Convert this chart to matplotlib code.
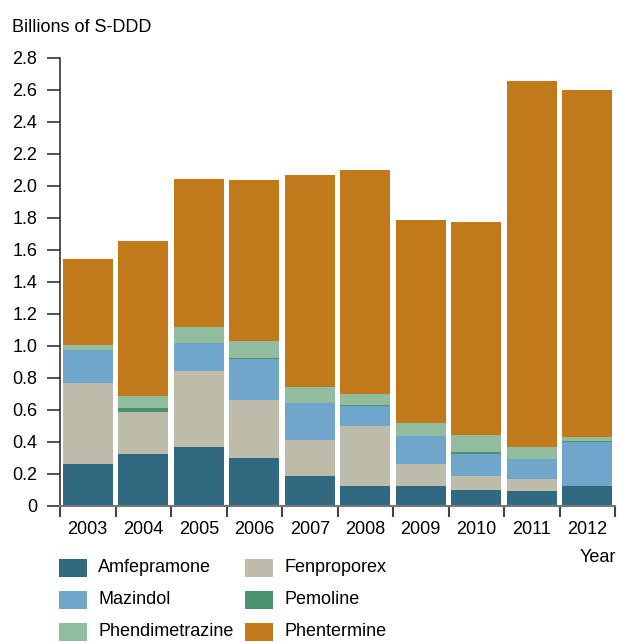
import matplotlib
matplotlib.use("Agg")
import matplotlib.pyplot as plt
from matplotlib.patches import Rectangle
import numpy as np

plt.rcParams['font.family'] = ['Liberation Sans Narrow', 'Liberation Sans', 'DejaVu Sans']

years = ["2003", "2004", "2005", "2006", "2007", "2008", "2009", "2010", "2011", "2012"]
series_names = ["Amfepramone", "Fenproporex", "Mazindol", "Pemoline", "Phendimetrazine", "Phentermine"]
amfepramone     = [0.26, 0.325, 0.37, 0.30, 0.19, 0.125, 0.125, 0.10, 0.094, 0.125]
fenproporex     = [0.51, 0.26, 0.475, 0.36, 0.22, 0.375, 0.14, 0.0875, 0.075, 0.0]
mazindol        = [0.205, 0.0, 0.175, 0.26, 0.235, 0.125, 0.175, 0.14, 0.125, 0.275]
pemoline        = [0.0, 0.027, 0.0, 0.004, 0.0, 0.006, 0.0, 0.007, 0.0, 0.006]
phendimetrazine = [0.03, 0.073, 0.10, 0.11, 0.10, 0.07, 0.08, 0.11, 0.075, 0.025]
phentermine     = [0.54, 0.97, 0.925, 1.005, 1.325, 1.40, 1.27, 1.33, 2.29, 2.17]
colors = ["#316A80", "#BDBBA9", "#70A6CA", "#4A9270", "#92BCA0", "#C0791B"]
y_ticks = [0, 0.2, 0.4, 0.6, 0.8, 1.0, 1.2, 1.4, 1.6, 1.8, 2.0, 2.2, 2.4, 2.6, 2.8]
y_tick_labels = ["0", "0.2", "0.4", "0.6", "0.8", "1.0", "1.2", "1.4", "1.6", "1.8", "2.0", "2.2", "2.4", "2.6", "2.8"]

series = [amfepramone, fenproporex, mazindol, pemoline, phendimetrazine, phentermine]

W, H = 617, 642
fig = plt.figure(figsize=(W / 100, H / 100), dpi=100)
ax = fig.add_axes([60 / W, (H - 506) / H, 555 / W, 448 / H])

x = np.arange(len(years))
bottom = np.zeros(len(years))
for name, vals, c in zip(series_names, series, colors):
    v = np.array(vals)
    ax.bar(x, v, bottom=bottom, width=0.9, color=c, linewidth=0, label=name, zorder=2)
    bottom += v

ax.set_xlim(-0.5, len(years) - 0.5)
ax.set_ylim(0, 2.8)
ax.set_yticks(y_ticks)
ax.set_yticklabels(y_tick_labels)
ax.set_xticks(x)
ax.set_xticklabels(years)
ax.set_xticks(np.arange(-0.5, len(years)), minor=True)
ax.tick_params(axis='x', which='major', length=0, pad=11, labelsize=13)
ax.tick_params(axis='x', which='minor', length=8, width=1.5, color='#444444', direction='out')
ax.tick_params(axis='y', which='major', length=9.4, width=1.1, color='#222222', pad=7, labelsize=13)

for s in ['top', 'right']:
    ax.spines[s].set_visible(False)
ax.spines['left'].set_color('#222222')
ax.spines['left'].set_linewidth(1.1)
ax.spines['bottom'].set_color('#777777')
ax.spines['bottom'].set_linewidth(1.5)

fig.text(12 / W, 1 - 28 / H, "Billions of S-DDD", fontsize=13, va='center', ha='left')
fig.text(616 / W, 1 - 558 / H, "Year", fontsize=13, va='center', ha='right')

# legend (manual layout, row-major like the reference)
legend_order = [0, 1, 2, 3, 4, 5]
col_x = [59, 245]
row_y = [568, 600, 632]
for k, idx in enumerate(legend_order):
    r, cidx = divmod(k, 2)
    px, py = col_x[cidx], row_y[r]
    fig.patches.append(Rectangle((px / W, 1 - (py + 9) / H), 28 / W, 18 / H,
                                 transform=fig.transFigure, facecolor=colors[idx], edgecolor='none'))
    fig.text((px + 39) / W, 1 - py / H, series_names[idx], fontsize=13, va='center', ha='left')

fig.savefig("out.png", dpi=100)
